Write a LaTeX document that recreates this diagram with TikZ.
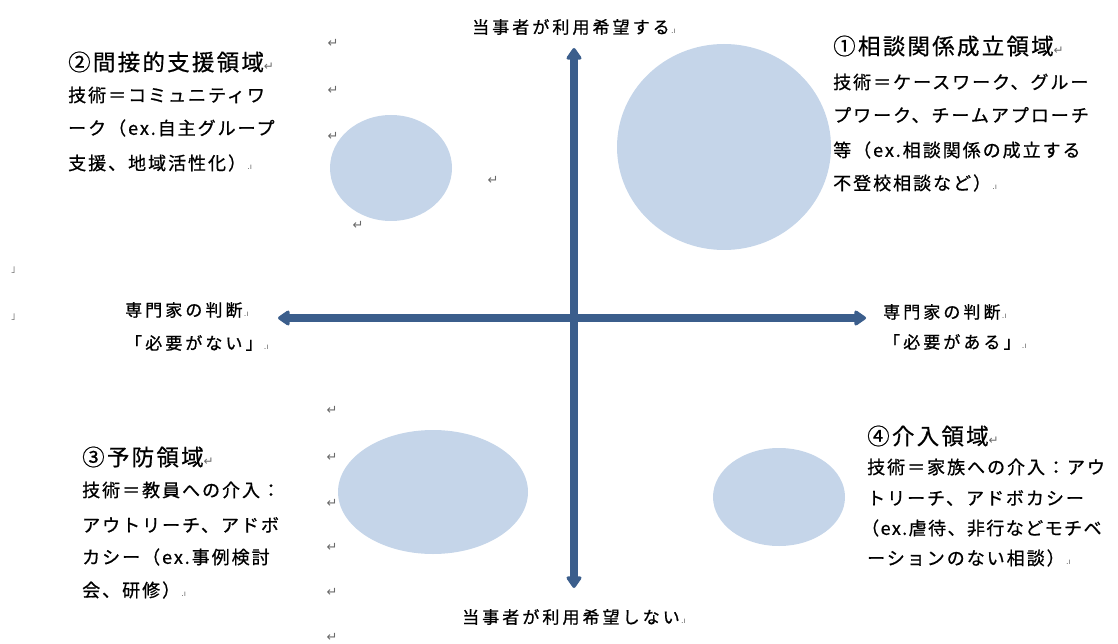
\documentclass[tikz,border=0pt]{standalone}
\usepackage{fontspec}
\usepackage{xcolor}
\usetikzlibrary{arrows.meta}
\newfontfamily\jpax[LetterSpace=18,FakeBold=0.8]{Noto Sans CJK JP}
\newfontfamily\jpbody[LetterSpace=11,FakeBold=0.8]{Noto Sans CJK JP}
\newfontfamily\jpbodytight[LetterSpace=8,FakeBold=0.8]{Noto Sans CJK JP}
\newfontfamily\jptitle[LetterSpace=10,FakeBold=0.6]{Noto Sans CJK JP}
\newfontfamily\symfont{DejaVu Sans}
\definecolor{blobfill}{RGB}{197,213,233}
\definecolor{axiscol}{RGB}{59,94,140}
\definecolor{markgray}{RGB}{105,105,105}
\newcommand{\myretmk}{{\symfont\fontsize{12}{12}\selectfont\color{markgray}↵}}
\newcommand{\mycellend}{{\symfont\fontsize{8}{8}\selectfont\color{markgray}\,.ı}}
\tikzset{
  blob/.style={fill=blobfill, draw=none},
  axisline/.style={draw=axiscol, line width=8pt, {Triangle[length=13pt,width=17pt,round]}-{Triangle[length=13pt,width=17pt,round]}},
  axlabel/.style={anchor=west, inner sep=0pt, font=\jpax\fontsize{17}{17}\selectfont},
  bodyline/.style={anchor=west, inner sep=0pt, font=\jpbody\fontsize{18}{18}\selectfont},
  titleline/.style={anchor=west, inner sep=0pt, font=\jptitle\fontsize{22.5}{22.5}\selectfont},
  retmark/.style={inner sep=0pt, font=\symfont\fontsize{13}{13}\selectfont, text=markgray},
  cellmark/.style={inner sep=0pt, font=\symfont\fontsize{10}{10}\selectfont, text=markgray}
}
\begin{document}
\begin{tikzpicture}[x=1pt,y=-1pt]
\useasboundingbox (0,0) rectangle (1118,644);

% blobs
\path[blob] (724,147) ellipse [x radius=107, y radius=103];
\path[blob] (391,168) ellipse [x radius=61, y radius=53];
\path[blob] (433,492) ellipse [x radius=95, y radius=62];
\path[blob] (779,497) ellipse [x radius=66, y radius=49];

% axes
\coordinate (ytop) at (574,48);
\coordinate (ybot) at (574,588);
\coordinate (xleft) at (278,318);
\coordinate (xright) at (866,318);
\draw[axisline] (ybot) -- (ytop);
\draw[axisline] (xleft) -- (xright);

% axis labels
\node[axlabel] (lbtop) at (472,27) {当事者が利用希望する\mycellend};
\node[axlabel] (lbbot) at (462,617) {当事者が利用希望しない\mycellend};
\node[axlabel] (lbl1) at (125,310) {専門家の判断\mycellend};
\node[axlabel] (lbl2) at (125,343) {「必要がない」\mycellend};
\node[axlabel] (lbr1) at (883,312) {専門家の判断\mycellend};
\node[axlabel] (lbr2) at (883,342) {「必要がある」\mycellend};

% quadrant 1
\node[titleline] (q1t) at (833,46) {①相談関係成立領域\myretmk};
\node[bodyline] (q1a) at (833,82) {技術＝ケースワーク、グルー};
\node[bodyline] (q1b) at (833,115) {プワーク、チームアプローチ};
\node[bodyline] (q1c) at (833,150) {等（ex.相談関係の成立する};
\node[bodyline] (q1d) at (833,183) {不登校相談など）\mycellend};

% quadrant 2
\node[titleline] (q2t) at (68,62) {②間接的支援領域\myretmk};
\node[bodyline] (q2a) at (68,95) {技術＝コミュニティワ};
\node[bodyline] (q2b) at (68,128) {ーク（ex.自主グループ};
\node[bodyline] (q2c) at (68,163) {支援、地域活性化）\mycellend};

% quadrant 3
\node[titleline] (q3t) at (82,457) {③予防領域\myretmk};
\node[bodyline] (q3a) at (82,490) {技術＝教員への介入：};
\node[bodyline] (q3b) at (82,525) {アウトリーチ、アドボ};
\node[bodyline] (q3c) at (82,557) {カシー（ex.事例検討};
\node[bodyline] (q3d) at (82,590) {会、研修）\mycellend};

% quadrant 4
\node[titleline] (q4t) at (867,436) {④介入領域\myretmk};
\node[bodyline] (q4a) at (867,467) {技術＝家族への介入：アウ};
\node[bodyline] (q4b) at (867,498) {トリーチ、アドボカシー};
\node[bodyline, font=\jpbodytight\fontsize{18}{18}\selectfont] (q4c) at (861,528) {（ex.虐待、非行などモチベ};
\node[bodyline] (q4d) at (867,558) {ーションのない相談）\mycellend};

% paragraph marks
\node[retmark] (r1) at (333,43) {↵};
\node[retmark] (r2) at (333,90) {↵};
\node[retmark] (r3) at (333,136) {↵};
\node[retmark] (r4) at (493,180) {↵};
\node[retmark] (r5) at (358,225) {↵};
\node[retmark] (r6) at (332,410) {↵};
\node[retmark] (r7) at (332,457) {↵};
\node[retmark] (r8) at (332,503) {↵};
\node[retmark] (r9) at (332,547) {↵};
\node[retmark] (r10) at (332,592) {↵};
\node[retmark] (r11) at (332,637) {↵};
\node[cellmark] (m1) at (13,270) {˩};
\node[cellmark] (m2) at (13,317) {˩};
\end{tikzpicture}
\end{document}
